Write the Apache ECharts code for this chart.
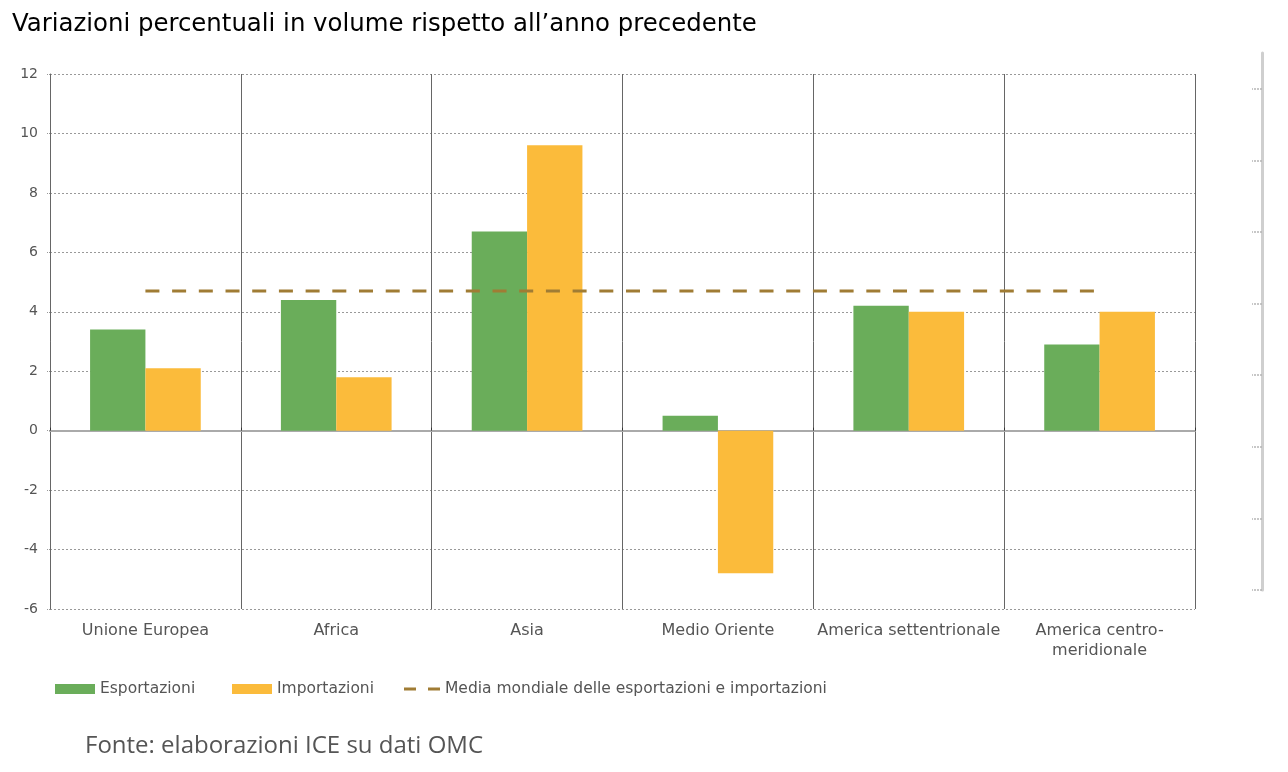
<!DOCTYPE html>
<html>
<head>
<meta charset="utf-8">
<script src="https://cdn.jsdelivr.net/npm/echarts@6/dist/echarts.min.js"></script>
<style>
html,body{margin:0;padding:0;background:#fff;}
#chart{width:1288px;height:772px;}
</style>
</head>
<body>
<div id="chart"></div>
<script>
var categories = ['Unione Europea', 'Africa', 'Asia', 'Medio Oriente', 'America settentrionale', 'America centro-\nmeridionale'];
var esportazioni = [3.4, 4.4, 6.7, 0.5, 4.2, 2.9];
var importazioni = [2.1, 1.8, 9.6, -4.8, 4.0, 4.0];
var mediaMondiale = [4.7, 4.7, 4.7, 4.7, 4.7, 4.7];
var yTicks = [-6, -4, -2, 0, 2, 4, 6, 8, 10, 12];
var strayTicks = [0, 1, 2, 3, 4, 5, 6, 7];

var chart = echarts.init(document.getElementById('chart'));
var labelFont = 'DejaVu Sans';
var legendText = {fontFamily: labelFont, fontSize: 15.5, color: '#555'};
chart.setOption({
  animation: false,
  title: [
    {text: 'Variazioni percentuali in volume rispetto all\u2019anno precedente', left: 7, top: 8,
     textStyle: {fontFamily: 'DejaVu Sans', fontSize: 24.4, fontWeight: 'normal', color: '#000'}},
    {text: 'Fonte: elaborazioni ICE su dati OMC', left: 80, top: 729,
     textStyle: {fontFamily: 'Open Sans', fontSize: 24, fontWeight: 'normal', color: '#555'}}
  ],
  legend: [
    {left: 55, top: 681, padding: 0, itemWidth: 40, itemHeight: 10, icon: 'rect', data: ['Esportazioni'], textStyle: legendText},
    {left: 232, top: 681, padding: 0, itemWidth: 40, itemHeight: 10, icon: 'rect', data: ['Importazioni'], textStyle: legendText},
    {left: 404, top: 681, padding: 0, itemWidth: 36, itemHeight: 10, textStyle: legendText,
     data: [{name: 'Media mondiale delle esportazioni e importazioni',
             icon: 'path://M0,4H12V7H0Z M24,4H36V7H24Z'}]}
  ],
  grid: [
    {left: 50, right: 93, top: 74, bottom: 163},
    {left: 1262, width: 1, top: 53, bottom: 182}
  ],
  xAxis: [
    {type: 'category', data: categories, gridIndex: 0, position: 'bottom',
     axisLine: {show: false, onZero: false}, axisTick: {show: false},
     axisLabel: {interval: 0, fontFamily: labelFont, fontSize: 16, color: '#555', margin: 12, lineHeight: 20},
     splitLine: {show: true, interval: 0, lineStyle: {color: '#666', width: 1, type: 'solid'}}},
    {type: 'category', data: categories, gridIndex: 0,
     axisLine: {show: true, onZero: true, lineStyle: {color: '#aaa', width: 2}},
     axisTick: {show: true, interval: 0, length: 3, lineStyle: {color: '#333'}},
     axisLabel: {show: false}, splitLine: {show: false}},
    {type: 'category', gridIndex: 1, data: [''], show: false}
  ],
  yAxis: [
    {type: 'value', gridIndex: 0, min: -6, max: 12, interval: 2,
     axisLine: {show: true, lineStyle: {color: '#666', width: 1}},
     axisTick: {show: true, length: 4, lineStyle: {color: '#999', type: 'dotted'}},
     axisLabel: {fontFamily: labelFont, fontSize: 14, color: '#555', margin: 12,
       customValues: yTicks},
     splitLine: {show: true, lineStyle: {color: '#999', width: 1, type: [2, 2]}}},
    {type: 'value', gridIndex: 1, min: 0, max: 7.5,
     axisLine: {show: true, lineStyle: {color: '#cfcfcf', width: 3}},
     axisTick: {show: true, length: 10, customValues: strayTicks, lineStyle: {color: '#b5b5b5', width: 1.5, type: [2, 1]}},
     axisLabel: {show: false}, splitLine: {show: false}}
  ],
  series: [
    {name: 'Esportazioni', type: 'bar', xAxisIndex: 0, yAxisIndex: 0, data: esportazioni,
     barGap: '0%', barCategoryGap: '42%', itemStyle: {color: '#6aad5a'}},
    {name: 'Importazioni', type: 'bar', xAxisIndex: 0, yAxisIndex: 0, data: importazioni,
     barGap: '0%', barCategoryGap: '42%', itemStyle: {color: '#fbbb3b'}},
    {name: 'Media mondiale delle esportazioni e importazioni', type: 'line', xAxisIndex: 0, yAxisIndex: 0,
     data: mediaMondiale, symbol: 'none', z: 5,
     lineStyle: {color: '#a07c34', width: 3, type: [14, 12.7]}, itemStyle: {color: '#a07c34'}}
  ]
});
</script>
</body>
</html>
